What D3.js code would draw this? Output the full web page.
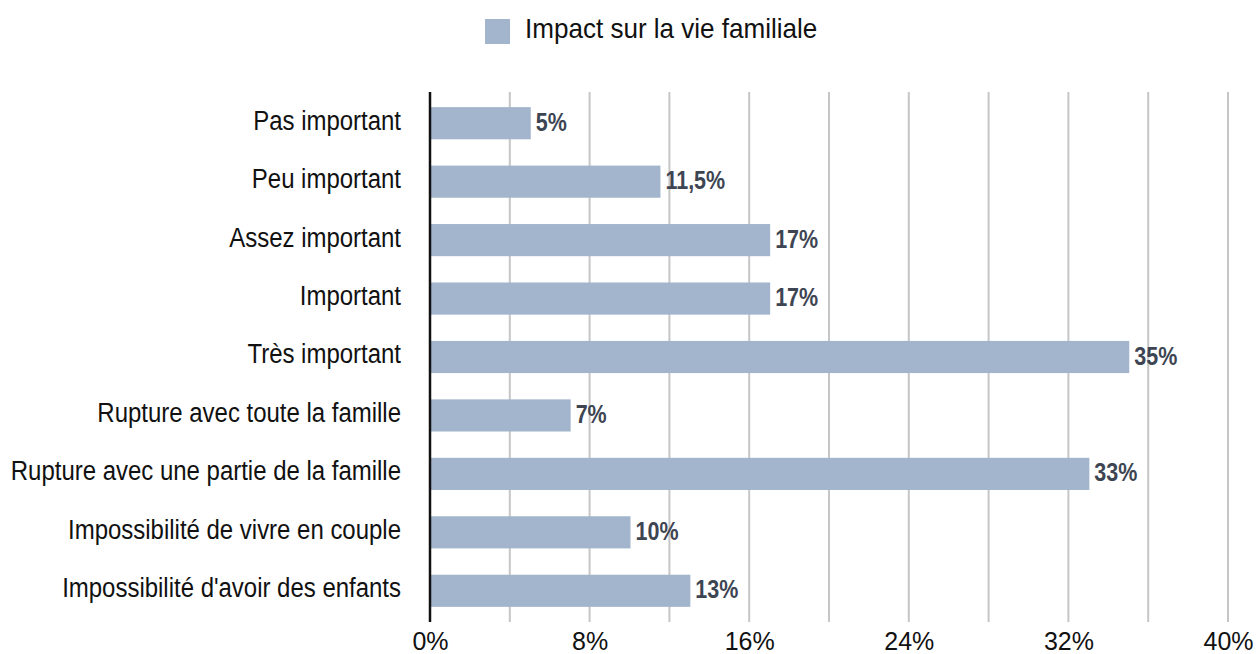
<!DOCTYPE html>
<html>
<head>
<meta charset="utf-8">
<script src="https://cdn.jsdelivr.net/npm/d3@7"></script>
<style>
  html, body { margin: 0; padding: 0; background: #fff; }
  svg { display: block; }
  text { font-family: "Liberation Sans", Arial, Helvetica, sans-serif; }
</style>
</head>
<body>
<div id="chart"></div>
<script>
const categories = [
    "Pas important",
    "Peu important",
    "Assez important",
    "Important",
    "Très important",
    "Rupture avec toute la famille",
    "Rupture avec une partie de la famille",
    "Impossibilité de vivre en couple",
    "Impossibilité d'avoir des enfants"
];
const values = [5, 11.5, 17, 17, 35, 7, 33, 10, 13];
const valueLabels = ["5%", "11,5%", "17%", "17%", "35%", "7%", "33%", "10%", "13%"];
const xTicks = [0, 8, 16, 24, 32, 40];
const gridTicks = [4, 8, 12, 16, 20, 24, 28, 32, 36, 40];
const seriesName = "Impact sur la vie familiale";

(function () {
    const width = 1256, height = 654;
    const plotLeft = 430, plotRight = 1228, plotTop = 92, plotBottom = 622;
    const barColor = "#a2b5cc";
    // the original uses a condensed Helvetica; squeeze Liberation Sans to fit
    const catSqueeze = 0.888, valSqueeze = 0.86, legSqueeze = 0.965;

    const svg = d3.select("#chart").append("svg")
        .attr("width", width)
        .attr("height", height);

    const x = d3.scaleLinear().domain([0, 40]).range([plotLeft, plotRight]);
    const y = d3.scaleBand().domain(categories).range([94, 620])
        .paddingInner(0.45).paddingOuter(0.225);

    // grid
    svg.append("g").selectAll("line")
        .data(gridTicks)
        .enter().append("line")
        .attr("x1", d => x(d)).attr("x2", d => x(d))
        .attr("y1", plotTop).attr("y2", plotBottom)
        .attr("stroke", "#c6c6c6")
        .attr("stroke-width", 2);

    // bars
    svg.append("g").selectAll("rect")
        .data(values)
        .enter().append("rect")
        .attr("x", x(0))
        .attr("y", (d, i) => y(categories[i]))
        .attr("width", d => x(d) - x(0) + 1)
        .attr("height", y.bandwidth())
        .attr("fill", barColor);

    // value labels
    svg.append("g").selectAll("text")
        .data(values)
        .enter().append("text")
        .attr("transform", (d, i) =>
            `translate(${x(d) + 6},${y(categories[i]) + y.bandwidth() / 2}) scale(${valSqueeze},1)`)
        .attr("dy", "0.3em")
        .attr("fill", "#3e4552")
        .style("font-size", "25px")
        .style("font-weight", "bold")
        .text((d, i) => valueLabels[i]);

    // category labels
    const yAxis = svg.append("g")
        .attr("transform", `translate(${plotLeft},0)`)
        .call(d3.axisLeft(y).tickSize(0).tickPadding(29));
    yAxis.select(".domain").remove();
    yAxis.selectAll("text")
        .attr("x", -29 / catSqueeze)
        .attr("transform", `scale(${catSqueeze},1)`)
        .attr("dy", "0.24em")
        .attr("fill", "#111")
        .style("font-size", "27px");

    // x axis labels
    const xAxis = svg.append("g")
        .attr("transform", `translate(0,${plotBottom})`)
        .call(d3.axisBottom(x).tickValues(xTicks).tickSize(0).tickPadding(10).tickFormat(d => d + "%"));
    xAxis.select(".domain").remove();
    xAxis.selectAll("text")
        .attr("fill", "#111")
        .style("font-size", "25px");

    // zero line
    svg.append("line")
        .attr("x1", x(0)).attr("x2", x(0))
        .attr("y1", plotTop).attr("y2", plotBottom)
        .attr("stroke", "#111")
        .attr("stroke-width", 2.5);

    // legend
    const legend = svg.append("g");
    legend.append("rect")
        .attr("x", 485).attr("y", 19)
        .attr("width", 25).attr("height", 25)
        .attr("fill", barColor);
    legend.append("text")
        .attr("transform", `translate(525,38) scale(${legSqueeze},1)`)
        .attr("fill", "#111")
        .style("font-size", "27px")
        .text(seriesName);
})();
</script>
</body>
</html>
